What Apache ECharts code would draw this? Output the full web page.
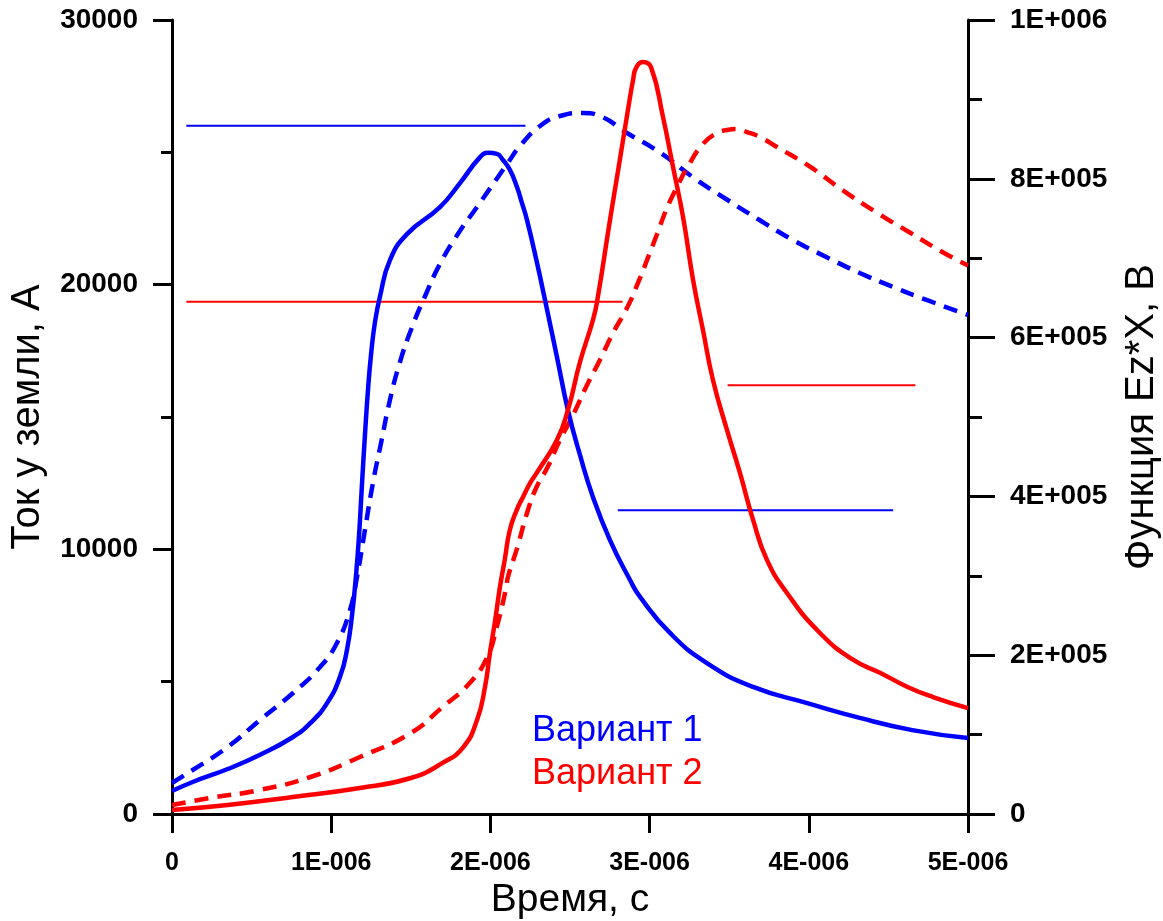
<!DOCTYPE html>
<html>
<head>
<meta charset="utf-8">
<script src="https://cdn.jsdelivr.net/npm/echarts@6/dist/echarts.min.js"></script>
<style>
  html, body { margin: 0; padding: 0; background: #fff; overflow: hidden; }
  #chart { width: 1163px; height: 921px; display: block; }
</style>
</head>
<body>
<div id="chart"></div>
<script>
// Time axis in microseconds; tick labels are written in seconds.
const xTickLabels = ['0', '1E-006', '2E-006', '3E-006', '4E-006', '5E-006'];
const leftTickLabels = ['0', '10000', '20000', '30000'];
const rightTickLabels = ['0', '2E+005', '4E+005', '6E+005', '8E+005', '1E+006'];

// Ground current, A  [t (µs), I]
const current1 = [
  [0, 870], [0.13, 1210], [0.35, 1700], [0.55, 2230], [0.76, 2910], [0.87, 3440],
  [0.974, 4190], [1.055, 5180], [1.099, 6200], [1.131, 7520], [1.156, 9030], [1.175, 10540],
  [1.193, 12430], [1.212, 14320], [1.231, 16020], [1.250, 17340], [1.275, 18590], [1.307, 19570],
  [1.369, 20930], [1.476, 21910], [1.683, 22930], [1.809, 23840], [1.935, 24820], [1.985, 24980],
  [2.041, 24940], [2.079, 24710], [2.123, 24330], [2.167, 23690], [2.198, 23090], [2.23, 22440],
  [2.293, 20820], [2.343, 19420], [2.418, 17270], [2.487, 15260], [2.563, 13560], [2.644, 11980],
  [2.751, 10350], [2.877, 8840], [2.940, 8200], [3.128, 6840], [3.360, 5700], [3.65, 4800],
  [3.99, 4190], [4.32, 3630], [4.65, 3170], [5.0, 2870]
];
const current2 = [
  [0, 150], [0.35, 340], [0.76, 640], [1.18, 980], [1.50, 1360], [1.70, 1930], [1.83, 2530],
  [1.916, 3550], [1.966, 4800], [1.997, 6080], [2.03, 7330], [2.06, 8580], [2.09, 9600],
  [2.122, 10730], [2.166, 11490], [2.205, 11980], [2.25, 12510], [2.29, 12880],
  [2.418, 14130], [2.487, 15265], [2.563, 17080], [2.644, 18660], [2.670, 19350], [2.751, 22440],
  [2.814, 24750], [2.864, 26600], [2.896, 27730], [2.915, 28190], [2.959, 28410], [3.009, 28220],
  [3.084, 26340], [3.147, 24450], [3.21, 22560], [3.273, 20180], [3.335, 18290], [3.398, 16400],
  [3.486, 14510], [3.568, 12880], [3.65, 11110], [3.737, 9600], [3.863, 8350], [4.07, 6840],
  [4.28, 5820], [4.45, 5330], [4.62, 4800], [4.78, 4420], [5.0, 4000]
];

// Ez*X function, V  [t (µs), value]
const field1 = [
  [0, 39000], [0.13, 55400], [0.35, 84400], [0.553, 118400], [0.76, 152400], [0.93, 185100],
  [1.036, 215400], [1.118, 256900], [1.162, 298500], [1.212, 357700], [1.263, 418100],
  [1.313, 467300], [1.369, 521400], [1.432, 569300], [1.508, 613400], [1.590, 652400],
  [1.683, 692700], [1.796, 730500], [1.916, 764500], [2.017, 793500], [2.105, 818600],
  [2.186, 841300], [2.312, 866500], [2.437, 879100], [2.582, 882900], [2.688, 879100],
  [2.858, 857700], [3.07, 832500], [3.27, 802300], [3.49, 773300], [3.69, 748100], [3.90, 722900],
  [4.11, 701500], [4.32, 681400], [4.53, 663700], [4.74, 647400], [5.0, 628500]
];
const field2 = [
  [0, 11300], [0.24, 20150], [0.55, 30200], [0.87, 46600], [1.18, 71800], [1.50, 102000],
  [1.70, 134800], [1.87, 165000], [1.98, 197700], [2.04, 235500], [2.10, 285900], [2.11, 298500],
  [2.17, 336300], [2.23, 379100], [2.29, 411800], [2.36, 437000], [2.437, 471000], [2.519, 502500],
  [2.607, 540300], [2.688, 571800], [2.770, 605800], [2.858, 637300], [2.927, 668800],
  [2.984, 697700], [3.047, 730500], [3.109, 763200], [3.172, 789700], [3.235, 813600],
  [3.335, 843800], [3.423, 857700], [3.486, 861500], [3.549, 862700], [3.612, 858900],
  [3.693, 852600], [3.80, 840000], [4.01, 814900], [4.21, 785900], [4.43, 756900], [4.64, 731700],
  [4.85, 706500], [5.0, 691000]
];

// Horizontal level segments on the current axis
const level1a = [[0.09, 26000], [2.22, 26000]];
const level1b = [[2.80, 11480], [4.53, 11480]];
const level2a = [[0.09, 19350], [2.83, 19350]];
const level2b = [[3.49, 16200], [4.67, 16200]];

const BLUE = '#0000ff';
const RED = '#ff0000';
const FONT = '"Liberation Sans", Arial, sans-serif';

const chart = echarts.init(document.getElementById('chart'), null, { renderer: 'canvas', width: 1163, height: 921 });

const axisLineStyle = { color: '#000', width: 3 };

function curve(data, color, yIndex, dashed) {
  return {
    type: 'line', data: data, yAxisIndex: yIndex, smooth: 0.5, symbol: 'none',
    lineStyle: { color: color, width: 4.5, type: dashed ? [14, 9] : 'solid', cap: 'butt' },
    silent: true, animation: false
  };
}
function level(data, color) {
  return {
    type: 'line', data: data, yAxisIndex: 0, symbol: 'none',
    lineStyle: { color: color, width: 2 }, silent: true, animation: false
  };
}

chart.setOption({
  backgroundColor: '#fff',
  animation: false,
  grid: { left: 172, right: 195, top: 20, bottom: 107, containLabel: false, outerBoundsMode: 'none' },
  xAxis: {
    type: 'value', min: 0, max: 5, interval: 1,
    name: 'Время, с', nameLocation: 'middle', nameGap: 66,
    nameTextStyle: { fontFamily: FONT, fontSize: 39, color: '#000' },
    axisLine: { show: true, onZero: false, lineStyle: axisLineStyle },
    axisTick: { show: true, length: 19, lineStyle: axisLineStyle },
    axisLabel: {
      margin: 37, fontFamily: FONT, fontWeight: 'bold', fontSize: 25, color: '#000',
      formatter: function (v) { return xTickLabels[Math.round(v)]; }
    },
    splitLine: { show: false }
  },
  yAxis: [
    {
      type: 'value', position: 'left', min: 0, max: 30000, interval: 10000,
      name: 'Ток у земли, А', nameLocation: 'middle', nameGap: 124, nameRotate: 90,
      nameTextStyle: { fontFamily: FONT, fontSize: 40, color: '#000' },
      axisLine: { show: true, lineStyle: axisLineStyle },
      axisTick: { show: true, length: 19, lineStyle: axisLineStyle },
      minorTick: { show: true, splitNumber: 2, length: 11, lineStyle: { color: '#000', width: 3 } },
      axisLabel: {
        margin: 34, fontFamily: FONT, fontWeight: 'bold', fontSize: 28, color: '#000',
        formatter: function (v) { return leftTickLabels[Math.round(v / 10000)]; }
      },
      splitLine: { show: false }
    },
    {
      type: 'value', position: 'right', min: 0, max: 1000000, interval: 200000,
      name: 'Функция Ez*X, В', nameLocation: 'middle', nameGap: 154, nameRotate: 90,
      nameTextStyle: { fontFamily: FONT, fontSize: 40, color: '#000' },
      axisLine: { show: true, lineStyle: axisLineStyle },
      axisTick: { show: true, length: 27, lineStyle: axisLineStyle },
      minorTick: { show: true, splitNumber: 2, length: 14, lineStyle: { color: '#000', width: 3 } },
      axisLabel: {
        margin: 42, fontFamily: FONT, fontWeight: 'bold', fontSize: 28, color: '#000',
        formatter: function (v) { return rightTickLabels[Math.round(v / 200000)]; }
      },
      splitLine: { show: false }
    }
  ],
  graphic: [
    { type: 'text', left: 532, top: 713, style: { text: 'Вариант 1', fill: BLUE, font: '36px ' + FONT } },
    { type: 'text', left: 532, top: 756, style: { text: 'Вариант 2', fill: RED, font: '36px ' + FONT } }
  ],
  series: [
    level(level1a, BLUE),
    level(level1b, BLUE),
    level(level2a, RED),
    level(level2b, RED),
    curve(field1, BLUE, 1, true),
    curve(field2, RED, 1, true),
    curve(current1, BLUE, 0, false),
    curve(current2, RED, 0, false)
  ]
});
</script>
</body>
</html>
